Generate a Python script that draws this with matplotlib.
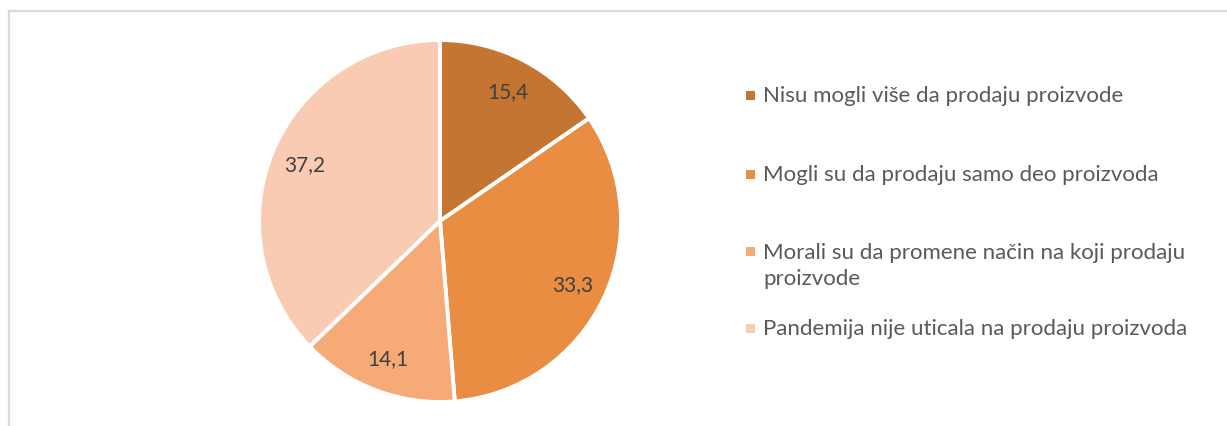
import matplotlib
matplotlib.use("Agg")
import matplotlib.pyplot as plt
from matplotlib.lines import Line2D
from matplotlib.patches import Rectangle

categories = [
    "Nisu mogli više da prodaju proizvode",
    "Mogli su da prodaju samo deo proizvoda",
    "Morali su da promene način na koji prodaju\nproizvode",
    "Pandemija nije uticala na prodaju proizvoda",
]
values = [15.4, 33.3, 14.1, 37.2]
value_labels = ["15,4", "33,3", "14,1", "37,2"]
colors = ["#C47532", "#E88D41", "#F6AA78", "#F8CBB2"]

W, H = 1227, 427
fig = plt.figure(figsize=(W / 100, H / 100), dpi=100)
fig.patch.set_facecolor("white")

FONT = ["Lato", "DejaVu Sans"]
TEXT_COLOR = "#404040"
LEG_COLOR = "#595959"

# frame
frame_color = "#D9D9D9"
fig.add_artist(Line2D([8.5 / W, 8.5 / W], [0, 1 - 11.5 / H], transform=fig.transFigure,
                      color=frame_color, lw=1.6))
fig.add_artist(Line2D([8.5 / W, 1], [1 - 11.5 / H, 1 - 11.5 / H], transform=fig.transFigure,
                      color=frame_color, lw=1.6))

# pie axes: center (440,222), radius 181 px
cx, cy, r = 440, 222, 181
ax = fig.add_axes([(cx - r) / W, (H - cy - r) / H, 2 * r / W, 2 * r / H])
wedges, texts = ax.pie(values, colors=colors, startangle=90, counterclock=False,
                       labels=value_labels, labeldistance=0.81,
                       wedgeprops=dict(edgecolor="white", linewidth=2.8),
                       textprops=dict(fontsize=15, color=TEXT_COLOR, family=FONT))
for t in texts:
    t.set_horizontalalignment("center")
    t.set_verticalalignment("center")
ax.set_xlim(-1, 1)
ax.set_ylim(-1, 1)
ax.set_aspect("equal")
ax.axis("off")

# legend (manual, Excel-like layout)
row_y = [96, 175, 252, 329]
line_gap = 28
for lab, col, y in zip(categories, colors, row_y):
    fig.add_artist(Rectangle((746 / W, (H - y - 4.5) / H), 9 / W, 9 / H,
                             transform=fig.transFigure, facecolor=col, edgecolor="none"))
    n = lab.count("\n")
    yc = y + n * line_gap / 2
    fig.text(763 / W, (H - yc) / H, lab,
             fontsize=16, color=LEG_COLOR, family=FONT,
             ha="left", va="center", linespacing=1.38)

fig.savefig("out.png", dpi=100, facecolor="white")
